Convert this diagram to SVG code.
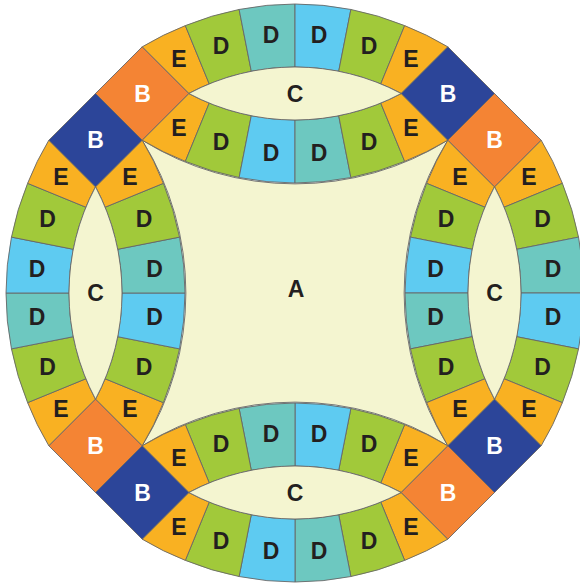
<svg xmlns="http://www.w3.org/2000/svg" xmlns:xlink="http://www.w3.org/1999/xlink" width="580" height="583" viewBox="0 0 580 583">
<style>
.p{stroke:#666;stroke-width:0.9;stroke-linejoin:round}
.bg{fill:#f4f5d0}
.e{fill:#f9b122}
.g{fill:#a1c93a}
.t{fill:#6dc8c0}
.s{fill:#5ecbf1}
.bo{fill:#f48434}
.bb{fill:#2c4599}
text{font-family:"Liberation Sans",Arial,sans-serif;font-weight:bold;font-size:23px;text-anchor:middle;fill:#231f20}
text.w{fill:#ffffff}
</style>
<defs>
<g id="arch">
<g id="outer-band">
<path class="p e" d="M142.15,46.85 A289,289 0 0,1 185.34,25.61 L209.24,83.90 A226,226 0 0,0 188.8,93.5 Z"/>
<path class="p g" d="M185.34,25.61 A289,289 0 0,1 239.11,9.46 L251.29,71.27 A226,226 0 0,0 209.24,83.90 Z"/>
<path class="p t" d="M239.11,9.46 A289,289 0 0,1 295,4 L295,67 A226,226 0 0,0 251.29,71.27 Z"/>
<path class="p s" d="M295,4 A289,289 0 0,1 350.89,9.46 L338.71,71.27 A226,226 0 0,0 295,67 Z"/>
<path class="p g" d="M350.89,9.46 A289,289 0 0,1 404.66,25.61 L380.76,83.90 A226,226 0 0,0 338.71,71.27 Z"/>
<path class="p e" d="M404.66,25.61 A289,289 0 0,1 447.85,46.85 L401.2,93.5 A226,226 0 0,0 380.76,83.90 Z"/>
</g>
<g id="inner-band">
<path class="p e" d="M188.8,93.5 A226,226 0 0,0 209.24,103.10 L185.34,161.39 A289,289 0 0,1 142.15,140.15 Z"/>
<path class="p g" d="M209.24,103.10 A226,226 0 0,0 251.29,115.73 L239.11,177.54 A289,289 0 0,1 185.34,161.39 Z"/>
<path class="p s" d="M251.29,115.73 A226,226 0 0,0 295,120 L295,183 A289,289 0 0,1 239.11,177.54 Z"/>
<path class="p t" d="M295,120 A226,226 0 0,0 338.71,115.73 L350.89,177.54 A289,289 0 0,1 295,183 Z"/>
<path class="p g" d="M338.71,115.73 A226,226 0 0,0 380.76,103.10 L404.66,161.39 A289,289 0 0,1 350.89,177.54 Z"/>
<path class="p e" d="M380.76,103.10 A226,226 0 0,0 401.2,93.5 L447.85,140.15 A289,289 0 0,1 404.66,161.39 Z"/>
</g>
<path class="p bg" d="M188.8,93.5 A226,226 0 0,1 401.2,93.5 A226,226 0 0,1 188.8,93.5 Z"/>
<path class="p bo" d="M142.15,46.85 L188.8,93.5 L142.15,140.15 L95.5,93.5 Z"/>
<path class="p bb" d="M447.85,46.85 L494.5,93.5 L447.85,140.15 L401.2,93.5 Z"/>
</g>
</defs>
<g id="piece-A">
<path class="p bg" d="M142.15,140.15 A289,289 0 0,0 447.85,140.15 A289,289 0 0,0 447.85,445.85 A289,289 0 0,0 142.15,445.85 A289,289 0 0,0 142.15,140.15 Z"/>
</g>
<g id="arch-top"><use xlink:href="#arch" href="#arch"/></g>
<g id="arch-right"><use xlink:href="#arch" href="#arch" transform="rotate(90 295 293)"/></g>
<g id="arch-bottom"><use xlink:href="#arch" href="#arch" transform="rotate(180 295 293)"/></g>
<g id="arch-left"><use xlink:href="#arch" href="#arch" transform="rotate(270 295 293)"/></g>
<g id="labels">
<text x="296" y="297">A</text>
<!-- top -->
<text x="179" y="67">E</text><text x="221" y="53.5">D</text><text x="271" y="43">D</text><text x="319" y="43">D</text><text x="369" y="53.5">D</text><text x="411" y="67">E</text>
<text x="179" y="136">E</text><text x="221" y="150">D</text><text x="271" y="160.5">D</text><text x="319" y="160.5">D</text><text x="369" y="150">D</text><text x="411" y="136">E</text>
<text x="295" y="101.5">C</text>
<text class="w" x="142.5" y="101.5">B</text><text class="w" x="448" y="101.5">B</text>
<!-- right -->
<text x="529" y="185">E</text><text x="542.5" y="227">D</text><text x="553" y="277">D</text><text x="553" y="325">D</text><text x="542.5" y="375">D</text><text x="529" y="417">E</text>
<text x="460" y="185">E</text><text x="446" y="227">D</text><text x="435.5" y="277">D</text><text x="435.5" y="325">D</text><text x="446" y="375">D</text><text x="460" y="417">E</text>
<text x="494.5" y="301">C</text>
<text class="w" x="494.5" y="148">B</text><text class="w" x="494.5" y="454">B</text>
<!-- bottom -->
<text x="411" y="535">E</text><text x="369" y="548.5">D</text><text x="319" y="559">D</text><text x="271" y="559">D</text><text x="221" y="548.5">D</text><text x="179" y="535">E</text>
<text x="411" y="466">E</text><text x="369" y="452">D</text><text x="319" y="441.5">D</text><text x="271" y="441.5">D</text><text x="221" y="452">D</text><text x="179" y="466">E</text>
<text x="295" y="500.5">C</text>
<text class="w" x="448" y="500.5">B</text><text class="w" x="142.5" y="500.5">B</text>
<!-- left -->
<text x="61" y="417">E</text><text x="47.5" y="375">D</text><text x="37" y="325">D</text><text x="37" y="277">D</text><text x="47.5" y="227">D</text><text x="61" y="185">E</text>
<text x="130" y="417">E</text><text x="144" y="375">D</text><text x="154.5" y="325">D</text><text x="154.5" y="277">D</text><text x="144" y="227">D</text><text x="130" y="185">E</text>
<text x="95.5" y="301">C</text>
<text class="w" x="95.5" y="454">B</text><text class="w" x="95.5" y="148">B</text>
</g>
</svg>
